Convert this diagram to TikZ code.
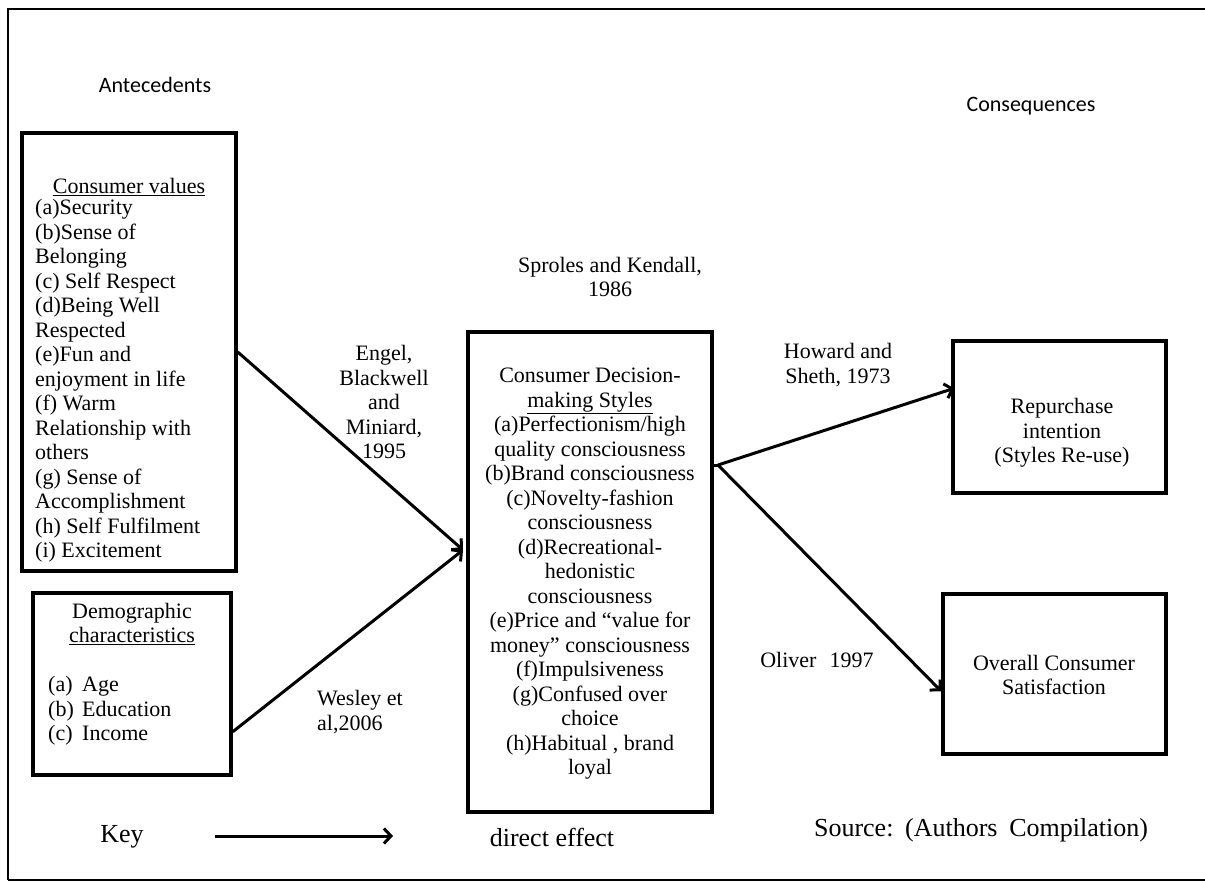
\documentclass[tikz,border=0pt]{standalone}
\usepackage{fontspec}
\setmainfont{Liberation Serif}
\newfontfamily\calfont{Carlito}
\usetikzlibrary{arrows.meta,calc}
\begin{document}
\begin{tikzpicture}[x=1pt,y=-1pt,
  box/.style={draw, line width=3.5pt, inner sep=0pt},
  txt/.style={font=\fontsize{22}{24.5}\selectfont, inner sep=0pt},
  big/.style={font=\fontsize{26}{30}\selectfont, inner sep=0pt},
  lbl/.style={font=\calfont\fontsize{22}{26}\selectfont, inner sep=0pt},
  conn/.style={line width=3pt, -{Straight Barb[length=7pt,width=15pt,line width=3pt]}},
]
\useasboundingbox (0,0) rectangle (1205,882);
% frame
\draw[line width=2.8pt] (1215,9) -- (8,9) -- (8,880);
\draw[line width=1.8pt] (8,880) -- (1215,880);

% headings
\node[lbl] (ante) at (155,85) {Antecedents};
\node[lbl] (cons) at (1031,106) {Consequences};

% boxes
\node[box, minimum width=214pt, minimum height=438pt] (cv) at (129,352) {};
\node[box, minimum width=198pt, minimum height=182pt] (dem) at (132,684) {};
\node[box, minimum width=244pt, minimum height=480pt] (cds) at (590,572) {};
\node[box, minimum width=213pt, minimum height=152pt] (rep) at (1059.5,417) {};
\node[box, minimum width=223pt, minimum height=160pt] (sat) at (1054.5,674) {};

% consumer values text
\node[txt] (cvh) at (129,187) {\underline{Consumer values}};
\node[txt, align=left, anchor=west] (cvl) at (35,381) {(a)Security\\(b)Sense of\\Belonging\\(c) Self Respect\\(d)Being Well\\Respected\\(e)Fun and\\enjoyment in life\\(f) Warm\\Relationship with\\others\\(g) Sense of\\Accomplishment\\(h) Self Fulfilment\\(i) Excitement};

% demographic text
\node[txt, align=center] (demh) at (132,624) {Demographic\\\underline{characteristics}};
\node[txt, align=left, anchor=west] (deml) at (48,711) {\makebox[34pt][l]{(a)}Age\\\makebox[34pt][l]{(b)}Education\\\makebox[34pt][l]{(c)}Income};

% central box text
\node[txt, align=center] (sproles) at (610,277) {Sproles and Kendall,\\1986};
\node[txt, align=center] (cdst) at (590,574) {Consumer Decision-\\\underline{making Styles}\\(a)Perfectionism/high\\quality consciousness\\(b)Brand consciousness\\(c)Novelty-fashion\\consciousness\\(d)Recreational-\\hedonistic\\consciousness\\(e)Price and “value for\\money” consciousness\\(f)Impulsiveness\\(g)Confused over\\choice\\(h)Habitual , brand\\loyal};

% consequence texts
\node[txt, align=center] (rept) at (1062,433) {Repurchase\\intention\\(Styles Re-use)};
\node[txt, align=center] (satt) at (1054,675) {Overall Consumer\\Satisfaction};

% connector labels
\node[txt, align=center] (engel) at (384,402) {Engel,\\Blackwell\\and\\Miniard,\\1995};
\node[txt, align=left, anchor=west] (wesley) at (317,712) {Wesley et\\al,2006};
\node[txt, align=center] (howard) at (838,365) {Howard and\\Sheth, 1973};
\node[txt] (oliver) at (817,660) {Oliver\hspace{0.6em}1997};

% connectors
\coordinate (cin) at (463,550);
\coordinate (split) at (718,465);
\draw[conn] (cv.east) -- (cin);
\draw[conn] ($(dem.south east)+(0,-45)$) -- (cin);
\draw[line width=3pt] (cds.east |- split) -- (split);
\draw[conn] (split) -- ($(rep.north west)+(3,49)$);
\draw[conn] (split) -- ($(sat.north west)+(0,99)$);

% key
\node[big] (key) at (122,837) {Key};
\node[big] (direct) at (552,837) {direct effect};
\coordinate (k1) at (215,836);
\coordinate (k2) at (393,836);
\draw[conn] (k1) -- (k2);
\node[big] (source) at (981,830) {Source:\hspace{0.45em}(Authors\hspace{0.45em}Compilation)};
\end{tikzpicture}
\end{document}
